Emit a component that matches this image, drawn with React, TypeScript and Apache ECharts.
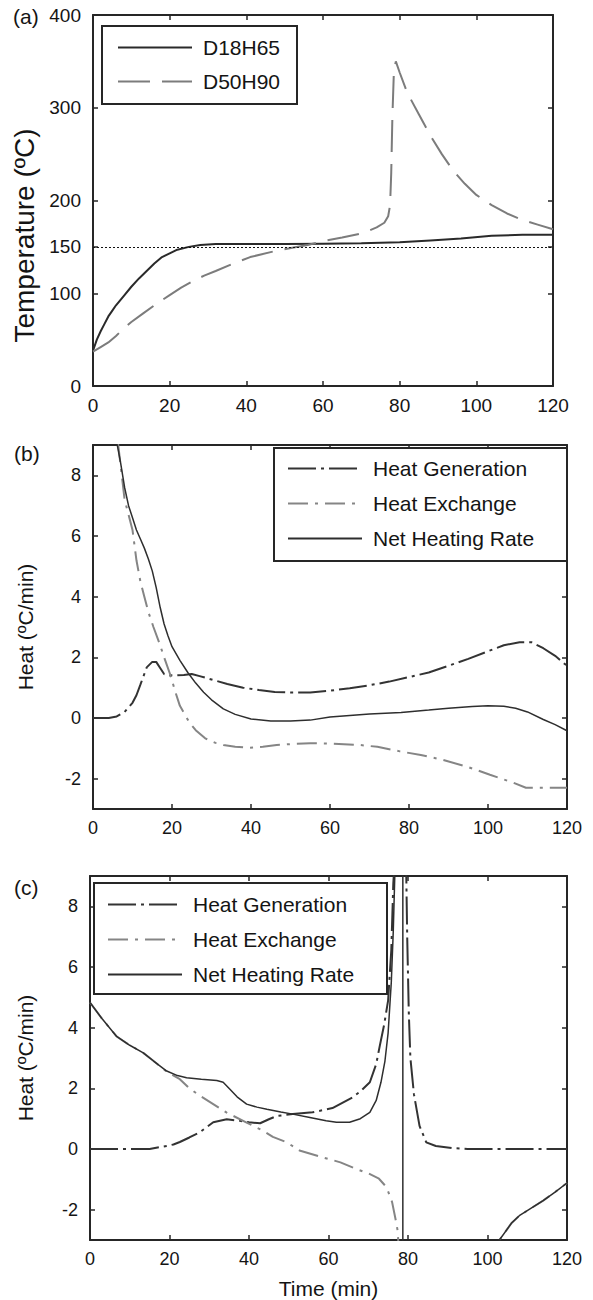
import React, { useEffect, useRef } from "react";
import * as echarts from "echarts";

// ---------- tick labels ----------
const xTicks = [0, 20, 40, 60, 80, 100, 120];
const tempTicks = [0, 100, 150, 200, 300, 400];
const heatTicks = [-2, 0, 2, 4, 6, 8];
const refTemp = 150;

// ---------- panel (a) ----------
const d18Time = [0, 1, 2, 3, 4, 5, 6, 8, 10, 12, 14, 16, 18, 20, 22, 25, 28, 32, 40, 50, 60, 70, 80, 88, 96, 104, 112, 120];
const d18Temp = [38, 50, 59, 67, 75, 81, 87, 97, 107, 116, 124, 132, 139, 143, 147, 150, 152, 153, 153, 153, 153.5, 154, 155, 157, 159, 162, 163, 163];

const d50Time = [0, 2, 4, 6, 8, 10, 13, 16, 20, 23, 26, 29, 32, 36, 41, 47, 52, 56, 61, 65, 70.5, 74, 76, 77, 77.5, 77.8, 78.1, 78.5, 79, 80, 82, 85, 88, 91, 94, 97, 100, 104, 108, 112, 116, 120];
const d50Temp = [37, 42, 47, 54, 62, 69, 78, 87, 98, 106, 113, 119, 124, 131, 139, 145, 149, 152, 157, 160, 165, 171, 176, 183, 195, 230, 290, 340, 350, 338, 316, 293, 270, 250, 232, 218, 206, 195, 186, 179, 174, 169];

// ---------- panel (b) ----------
const bGenTime = [0, 4, 6, 8, 10, 11, 12, 13.6, 15, 16, 17, 18, 19, 23, 25, 27, 30, 34, 38, 42, 46, 50, 55, 60, 65, 70, 75, 80, 85, 90, 95, 100, 104, 108, 111, 114, 117, 120];
const bGenHeat = [0, 0, 0.05, 0.2, 0.5, 0.75, 1.1, 1.67, 1.85, 1.85, 1.65, 1.45, 1.4, 1.42, 1.45, 1.38, 1.27, 1.12, 1.0, 0.92, 0.86, 0.84, 0.84, 0.9, 0.98, 1.08, 1.2, 1.35, 1.5, 1.72, 1.95, 2.2, 2.4, 2.5, 2.5, 2.3, 2.05, 1.72];

const bExTime = [6.3, 8, 9, 10, 11, 12, 13, 14, 15.3, 17, 18, 19.5, 21, 22, 24.5, 26, 28.4, 31, 33, 36, 39.7, 43, 46.5, 50, 55, 60, 67.6, 72, 77.7, 83, 88.6, 95, 100.5, 106.3, 109.6, 116.5, 120];
const bExHeat = [9.1, 7.2, 6.7, 6.2, 5.2, 4.5, 4.0, 3.5, 3.0, 2.4, 2.0, 1.45, 0.8, 0.4, -0.17, -0.4, -0.67, -0.82, -0.89, -0.95, -0.98, -0.95, -0.89, -0.86, -0.83, -0.84, -0.89, -0.95, -1.1, -1.22, -1.38, -1.62, -1.87, -2.13, -2.3, -2.3, -2.3];

const bNetTime = [6, 7, 8, 9, 10, 11, 12, 13, 14, 15, 16, 17, 18, 19, 20, 22, 24, 26, 28, 30, 33, 36, 40, 45, 50, 55, 60, 65, 70, 78, 85, 90, 96, 100, 104, 107, 110, 114, 117, 120];
const bNetHeat = [9.1, 8.4, 7.6, 7.0, 6.6, 6.2, 5.9, 5.6, 5.25, 4.85, 4.3, 3.65, 3.1, 2.7, 2.35, 1.9, 1.5, 1.15, 0.85, 0.6, 0.3, 0.12, -0.03, -0.1, -0.1, -0.07, 0.03, 0.08, 0.13, 0.18, 0.26, 0.32, 0.38, 0.4, 0.39, 0.32, 0.2, -0.05, -0.22, -0.42];

// ---------- panel (c) ----------
const cGenTime = [0, 15, 17, 19.3, 21, 22.6, 25, 27.7, 31, 34.4, 37.7, 40, 42.8, 45, 47, 51, 56, 61, 66, 68, 70.4, 72, 72.9, 74, 75, 75.8, 76.3, 76.7, 79.5, 79.8, 80.2, 80.6, 81.5, 82.9, 84.6, 87, 91, 95, 120];
const cGenHeat = [0, 0, 0.05, 0.1, 0.15, 0.23, 0.38, 0.56, 0.88, 0.98, 0.93, 0.88, 0.85, 0.98, 1.09, 1.15, 1.21, 1.35, 1.7, 1.9, 2.2, 2.8, 3.4, 4.1, 4.9, 6.56, 8.75, 9.6, 9.6, 7.0, 4.5, 3.0, 1.8, 0.76, 0.22, 0.1, 0.03, 0, 0];

const cExTime = [0, 3, 6.7, 10, 13.4, 16, 19.3, 22.6, 25, 27.7, 31, 34.4, 39.4, 43.6, 46, 49.5, 52.7, 58.4, 63, 67, 70, 72.7, 74.6, 76, 77, 77.4, 77.8, 102.5, 103, 106, 108, 111, 114, 117, 120];
const cExHeat = [4.83, 4.3, 3.71, 3.42, 3.17, 2.9, 2.55, 2.3, 2.0, 1.75, 1.48, 1.2, 0.87, 0.6, 0.4, 0.22, -0.05, -0.27, -0.44, -0.66, -0.8, -0.98, -1.26, -1.75, -2.4, -2.7, -3.6, -3.6, -3.0, -2.45, -2.2, -1.95, -1.7, -1.42, -1.12];

const cNetTime = [0, 3, 6.7, 10, 13.4, 16, 19.3, 22, 24.3, 28, 31.9, 33.5, 35.2, 37, 39.4, 42, 44.5, 48, 51, 55, 59.4, 62, 65.3, 68, 70.4, 72, 73.2, 74.2, 75, 75.8, 76.3, 76.8, 78.7, 78.7, 102.5, 103, 106, 108, 111, 114, 117, 120];
const cNetHeat = [4.83, 4.3, 3.71, 3.42, 3.17, 2.9, 2.57, 2.42, 2.35, 2.3, 2.26, 2.2, 1.97, 1.72, 1.48, 1.38, 1.31, 1.22, 1.15, 1.05, 0.93, 0.88, 0.88, 1.0, 1.21, 1.6, 2.2, 2.9, 3.83, 5.5, 7.2, 9.6, 9.6, -3.6, -3.6, -3.0, -2.45, -2.2, -1.95, -1.7, -1.42, -1.12];

const zip = (a: number[], b: number[]) => a.map((v, i) => [v, b[i]]);

const FONT = "'Liberation Sans', Arial, sans-serif";
const AX = "#262626";
const TXT = "#141414";

function xAxisFor(grid: number, pos: "bottom" | "top", labels: boolean, fontSize: number, extra: any = {}) {
  return {
    type: "value",
    gridIndex: grid,
    position: pos,
    min: xTicks[0],
    max: xTicks[xTicks.length - 1],
    interval: xTicks[1] - xTicks[0],
    axisLine: { show: true, onZero: false, lineStyle: { color: AX, width: 2 } },
    axisTick: { show: true, inside: true, length: 5, lineStyle: { color: AX, width: 1.5 } },
    axisLabel: { show: labels, margin: 10, fontSize, color: TXT, fontFamily: FONT },
    splitLine: { show: false },
    ...extra,
  };
}

function yAxisFor(grid: number, pos: "left" | "right", labels: boolean, min: number, max: number, ticks: number[], fontSize: number, extra: any = {}) {
  return {
    type: "value",
    gridIndex: grid,
    position: pos,
    min,
    max,
    axisLine: { show: true, onZero: false, lineStyle: { color: AX, width: 2 } },
    axisTick: { show: true, inside: true, length: 5, customValues: ticks, lineStyle: { color: AX, width: 1.5 } },
    axisLabel: { show: labels, margin: 12, fontSize, color: TXT, fontFamily: FONT, customValues: ticks },
    splitLine: { show: false },
    ...extra,
  };
}

const GEN_STYLE = { color: "#333333", width: 2, type: [28, 5, 3, 5] };
const EX_STYLE = { color: "#858585", width: 2, type: [20, 7, 3, 7] };
const NET_STYLE = { color: "#2e2e2e", width: 1.5, type: "solid" };

function line(name: string, data: number[][], xi: number, yi: number, lineStyle: any, extra: any = {}) {
  return {
    type: "line",
    name,
    data,
    xAxisIndex: xi,
    yAxisIndex: yi,
    symbol: "none",
    smooth: false,
    clip: true,
    lineStyle,
    itemStyle: { color: lineStyle.color },
    ...extra,
  };
}

function legendFor(left: number, top: number, names: string[], pad: number[], itemGap: number, textWidth: number) {
  return {
    left,
    top,
    orient: "vertical",
    data: names,
    selectedMode: false,
    itemWidth: 74,
    itemHeight: 14,
    itemGap,
    padding: pad,
    borderColor: AX,
    borderWidth: 2,
    borderRadius: 0,
    backgroundColor: "#ffffff",
    itemStyle: { opacity: 0, borderWidth: 0 },
    textStyle: { fontFamily: FONT, fontSize: 21, color: TXT, lineHeight: 21, width: textWidth, padding: [0, 0, 0, 6] },
  };
}

export default function App() {
  const ref = useRef<HTMLDivElement>(null);
  useEffect(() => {
    if (!ref.current) return;
    const chart = echarts.init(ref.current, null, { renderer: "svg" });
    const option: any = {
      animation: false,
      backgroundColor: "#ffffff",
      grid: [
        { left: 93, top: 15, width: 460, height: 371 },
        { left: 93, top: 445, width: 474, height: 364 },
        { left: 90, top: 876, width: 477, height: 365 },
      ],
      xAxis: [
        xAxisFor(0, "bottom", true, 19),
        xAxisFor(0, "top", false, 19),
        xAxisFor(1, "bottom", true, 18),
        xAxisFor(1, "top", false, 18),
        xAxisFor(2, "bottom", true, 18, {
          name: "Time (min)",
          nameLocation: "middle",
          nameGap: 38,
          nameTextStyle: { fontSize: 21, color: TXT, fontFamily: FONT },
        }),
        xAxisFor(2, "top", false, 18),
      ],
      yAxis: [
        yAxisFor(0, "left", true, 0, 400, tempTicks, 19, {
          name: "Temperature (ºC)",
          nameLocation: "middle",
          nameGap: 52,
          nameTextStyle: { fontSize: 28, color: TXT, fontFamily: FONT, padding: [0, 70, 0, 0] },
        }),
        yAxisFor(0, "right", false, 0, 400, tempTicks, 19),
        yAxisFor(1, "left", true, -3, 9, heatTicks, 18, {
          name: "Heat (ºC/min)",
          nameLocation: "middle",
          nameGap: 57,
          nameTextStyle: { fontSize: 21, color: TXT, fontFamily: FONT },
        }),
        yAxisFor(1, "right", false, -3, 9, heatTicks, 18),
        yAxisFor(2, "left", true, -3, 9, heatTicks, 18, {
          name: "Heat (ºC/min)",
          nameLocation: "middle",
          nameGap: 54,
          nameTextStyle: { fontSize: 21, color: TXT, fontFamily: FONT },
        }),
        yAxisFor(2, "right", false, -3, 9, heatTicks, 18),
      ],
      legend: [
        legendFor(102, 26, ["D18H65", "D50H90"], [11, 16, 12, 15], 13, 78),
        legendFor(274, 448, ["Heat Generation", "Heat Exchange", "Net Heating Rate"], [10, 26, 12, 13], 14, 168),
        legendFor(94, 883, ["Heat Generation", "Heat Exchange", "Net Heating Rate"], [11, 26, 9, 13], 14, 168),
      ],
      graphic: [
        { type: "text", x: 13, y: 16, style: { text: "(a)", fontSize: 21, fontFamily: FONT, fill: TXT, verticalAlign: "middle", align: "left" } },
        { type: "text", x: 14, y: 453, style: { text: "(b)", fontSize: 21, fontFamily: FONT, fill: TXT, verticalAlign: "middle", align: "left" } },
        { type: "text", x: 14, y: 887, style: { text: "(c)", fontSize: 21, fontFamily: FONT, fill: TXT, verticalAlign: "middle", align: "left" } },
      ],
      series: [
        line("D18H65", zip(d18Time, d18Temp), 0, 0, { color: "#2a2a2a", width: 2, type: "solid" }, {
          z: 3,
          markLine: {
            silent: true,
            symbol: "none",
            label: { show: false },
            lineStyle: { color: "#111", width: 1, type: [2, 2] },
            data: [{ yAxis: refTemp }],
          },
        }),
        line("D50H90", zip(d50Time, d50Temp), 0, 0, { color: "#7c7c7c", width: 2, type: [32, 12] }),

        line("Heat Generation", zip(bGenTime, bGenHeat), 2, 2, GEN_STYLE),
        line("Heat Exchange", zip(bExTime, bExHeat), 2, 2, EX_STYLE),
        line("Net Heating Rate", zip(bNetTime, bNetHeat), 2, 2, NET_STYLE),

        line("Heat Generation", zip(cGenTime, cGenHeat), 4, 4, GEN_STYLE),
        line("Heat Exchange", zip(cExTime, cExHeat), 4, 4, EX_STYLE),
        line("Net Heating Rate", zip(cNetTime, cNetHeat), 4, 4, NET_STYLE),
      ],
    };
    chart.setOption(option);
    return () => chart.dispose();
  }, []);
  return (
    <div
      ref={ref}
      style={{ position: "absolute", left: 0, top: 0, width: 593, height: 1300, background: "#fff" }}
    />
  );
}
